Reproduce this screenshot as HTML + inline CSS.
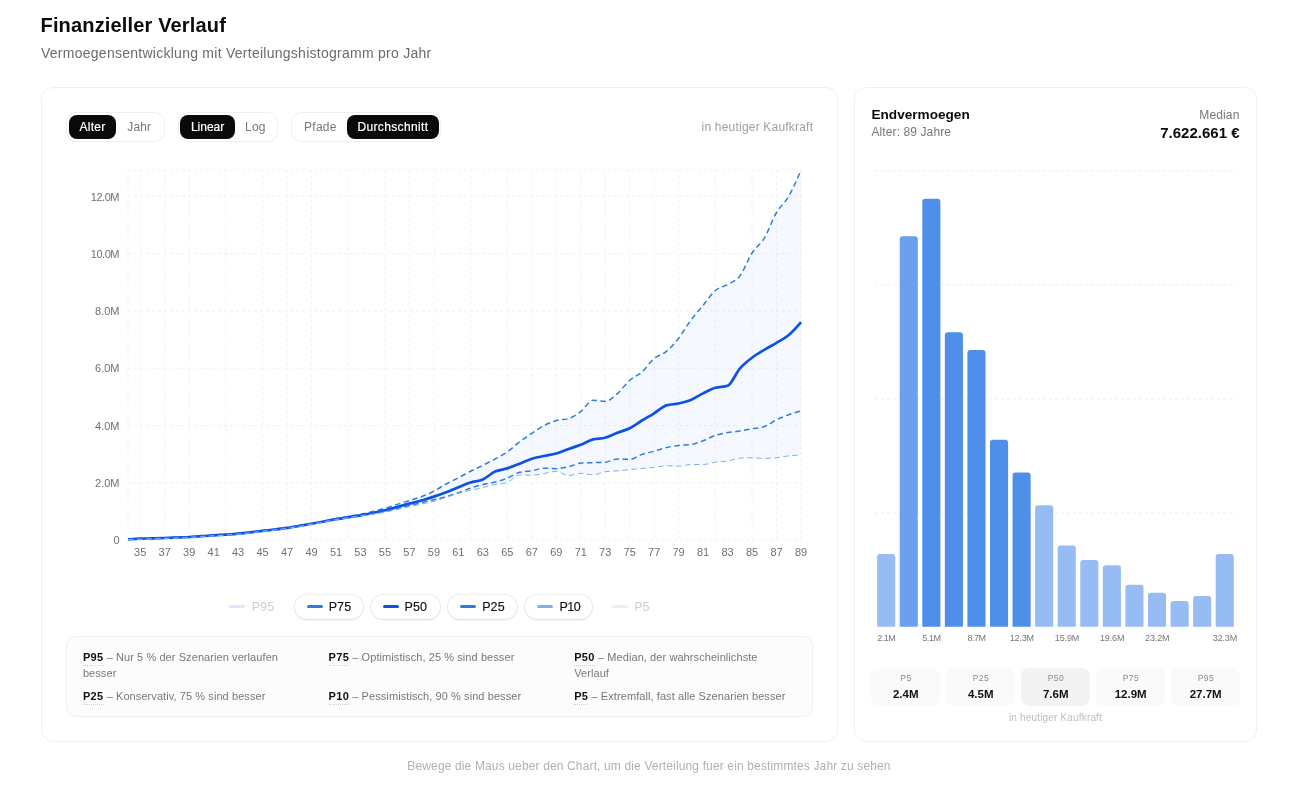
<!DOCTYPE html>
<html lang="de">
<head>
<meta charset="utf-8">
<title>Finanzieller Verlauf</title>
<style>
*{box-sizing:border-box;margin:0;padding:0}
html,body{width:1306px;height:800px;background:#fff;overflow:hidden}
body{position:relative;font-family:"Liberation Sans",sans-serif;color:#111}
.abs{position:absolute}
#root{position:absolute;left:0;top:0;width:1306px;height:800px;will-change:transform;opacity:0.999}
.card{border:1px solid #f0f0f0;border-radius:12px;background:#fff}
h1{position:absolute;left:40.5px;top:13px;font-size:20px;line-height:24px;font-weight:700;color:#0b0b0b;white-space:nowrap;letter-spacing:0.16px}
.sub{left:41px;top:45px;font-size:14px;line-height:17px;color:#6b6b6b;white-space:nowrap;letter-spacing:0.26px}
.tg{position:absolute;top:112px;height:29.6px;border:1px solid #efefef;border-radius:10px;background:#fff}
.tb{position:absolute;top:115px;height:24px;border-radius:8px;font-size:12px;line-height:24px;text-align:center;color:#777;white-space:nowrap}
.tb.on{background:#0a0a0a;color:#fff;-webkit-text-stroke:0.2px #fff}
.hint{font-size:12px;line-height:14px;color:#a0a0a0;white-space:nowrap}
.lpill{border-radius:12px;background:#fff;box-shadow:0 0 0 1px rgba(0,0,0,0.055),0 1px 3px rgba(0,0,0,0.09)}
.ltxt{font-size:12.5px;line-height:16px;white-space:nowrap;letter-spacing:0.1px}
.exbox{left:66.4px;top:636.4px;width:746.6px;height:80.2px;border:1px solid #f0f0f0;border-radius:10px;background:#fcfcfc}
.ex{width:240px;font-size:11px;line-height:16px;color:#777;white-space:nowrap;letter-spacing:0.08px}
.ex b{color:#111;font-weight:700;border-bottom:1px dotted #cfcfcf;padding-bottom:2px;letter-spacing:0.35px}
.stat{width:69px;height:38px;border-radius:8px;text-align:center}
.sk{font-size:8.5px;line-height:10px;color:#8a8a8a;margin-top:5px;letter-spacing:0.5px;padding-left:0.5px}
.sv{font-size:11.5px;line-height:14px;font-weight:700;color:#111;margin-top:4.1px}
</style>
</head>
<body>
<div id="root">
<h1>Finanzieller Verlauf</h1>
<div class="abs sub">Vermoegensentwicklung mit Verteilungshistogramm pro Jahr</div>

<div class="abs card" style="left:41px;top:86.75px;width:796.85px;height:655.1px"></div>
<div class="abs card" style="left:854px;top:86.75px;width:402.8px;height:655.1px"></div>

<div class="tg" style="left:66.1px;width:98.8px"></div>
<div class="tb on" style="left:68.9px;width:47.2px;letter-spacing:0.3px">Alter</div>
<div class="tb" style="left:116.7px;width:45px;letter-spacing:0.1px">Jahr</div>
<div class="tg" style="left:177.5px;width:100.9px"></div>
<div class="tb on" style="left:180.2px;width:54.8px">Linear</div>
<div class="tb" style="left:235.3px;width:40.1px;letter-spacing:0.2px">Log</div>
<div class="tg" style="left:291.3px;width:150px"></div>
<div class="tb" style="left:294.1px;width:52.6px;letter-spacing:0.25px">Pfade</div>
<div class="tb on" style="left:346.9px;width:92.1px;letter-spacing:0.35px">Durchschnitt</div>
<div class="abs hint" style="right:492.8px;top:120px;letter-spacing:0.2px">in heutiger Kaufkraft</div>

<svg class="abs" style="left:0;top:0" width="1306" height="800" viewBox="0 0 1306 800">
<g stroke="#f1f1f1" stroke-width="1" stroke-dasharray="3 3" fill="none">
<line x1="128.0" y1="170.00" x2="801.0" y2="170.00"/>
<line x1="128.0" y1="196.56" x2="801.0" y2="196.56"/>
<line x1="128.0" y1="253.80" x2="801.0" y2="253.80"/>
<line x1="128.0" y1="311.04" x2="801.0" y2="311.04"/>
<line x1="128.0" y1="368.28" x2="801.0" y2="368.28"/>
<line x1="128.0" y1="425.52" x2="801.0" y2="425.52"/>
<line x1="128.0" y1="482.76" x2="801.0" y2="482.76"/>
<line x1="128.0" y1="540.00" x2="801.0" y2="540.00"/>
<line x1="128.00" y1="170.0" x2="128.00" y2="540.0"/>
<line x1="140.24" y1="170.0" x2="140.24" y2="540.0"/>
<line x1="164.71" y1="170.0" x2="164.71" y2="540.0"/>
<line x1="189.18" y1="170.0" x2="189.18" y2="540.0"/>
<line x1="225.89" y1="170.0" x2="225.89" y2="540.0"/>
<line x1="262.60" y1="170.0" x2="262.60" y2="540.0"/>
<line x1="287.07" y1="170.0" x2="287.07" y2="540.0"/>
<line x1="311.55" y1="170.0" x2="311.55" y2="540.0"/>
<line x1="348.25" y1="170.0" x2="348.25" y2="540.0"/>
<line x1="384.96" y1="170.0" x2="384.96" y2="540.0"/>
<line x1="409.44" y1="170.0" x2="409.44" y2="540.0"/>
<line x1="433.91" y1="170.0" x2="433.91" y2="540.0"/>
<line x1="470.62" y1="170.0" x2="470.62" y2="540.0"/>
<line x1="507.33" y1="170.0" x2="507.33" y2="540.0"/>
<line x1="531.80" y1="170.0" x2="531.80" y2="540.0"/>
<line x1="556.27" y1="170.0" x2="556.27" y2="540.0"/>
<line x1="580.75" y1="170.0" x2="580.75" y2="540.0"/>
<line x1="605.22" y1="170.0" x2="605.22" y2="540.0"/>
<line x1="629.69" y1="170.0" x2="629.69" y2="540.0"/>
<line x1="654.16" y1="170.0" x2="654.16" y2="540.0"/>
<line x1="678.64" y1="170.0" x2="678.64" y2="540.0"/>
<line x1="715.35" y1="170.0" x2="715.35" y2="540.0"/>
<line x1="752.05" y1="170.0" x2="752.05" y2="540.0"/>
<line x1="776.53" y1="170.0" x2="776.53" y2="540.0"/>
<line x1="801.00" y1="170.0" x2="801.00" y2="540.0"/>
</g>
<path d="M128.00,539.00C132.08,538.78,136.16,538.55,140.24,538.40C144.32,538.25,148.39,538.22,152.47,538.10C156.55,537.98,160.63,537.85,164.71,537.70C168.79,537.55,172.87,537.37,176.95,537.20C181.02,537.03,185.10,536.92,189.18,536.70C193.26,536.48,197.34,536.18,201.42,535.90C205.50,535.62,209.58,535.27,213.65,535.00C217.73,534.73,221.81,534.57,225.89,534.30C229.97,534.03,234.05,533.77,238.13,533.40C242.21,533.03,246.28,532.57,250.36,532.10C254.44,531.63,258.52,531.08,262.60,530.60C266.68,530.12,270.76,529.70,274.84,529.20C278.92,528.70,282.99,528.20,287.07,527.60C291.15,527.00,295.23,526.29,299.31,525.60C303.39,524.91,307.47,524.18,311.55,523.45C315.62,522.72,319.70,521.99,323.78,521.20C327.86,520.41,331.94,519.48,336.02,518.70C340.10,517.92,344.18,517.23,348.25,516.50C352.33,515.77,356.41,515.13,360.49,514.30C364.57,513.47,368.65,512.50,372.73,511.50C376.81,510.50,380.88,509.48,384.96,508.30C389.04,507.12,393.12,505.70,397.20,504.40C401.28,503.10,405.36,501.80,409.44,500.50C413.52,499.20,417.59,498.17,421.67,496.60C425.75,495.03,429.83,493.20,433.91,491.10C437.99,489.00,442.07,486.22,446.15,484.00C450.22,481.78,454.30,479.93,458.38,477.80C462.46,475.68,466.54,473.33,470.62,471.25C474.70,469.17,478.78,467.34,482.85,465.30C486.93,463.26,491.01,461.22,495.09,459.00C499.17,456.78,503.25,454.85,507.33,452.00C511.41,449.15,515.48,445.02,519.56,441.90C523.64,438.78,527.72,436.03,531.80,433.30C535.88,430.57,539.96,427.63,544.04,425.50C548.12,423.37,552.19,421.65,556.27,420.50C560.35,419.35,564.43,419.87,568.51,418.60C572.59,417.33,576.67,414.65,580.75,411.60C584.82,408.55,588.90,400.30,592.98,400.30C597.06,400.30,601.14,401.40,605.22,401.40C609.30,401.40,613.38,397.12,617.45,393.60C621.53,390.08,625.61,383.90,629.69,380.30C633.77,376.70,637.85,375.63,641.93,372.00C646.01,368.37,650.08,361.93,654.16,358.50C658.24,355.07,662.32,354.80,666.40,351.40C670.48,348.00,674.56,343.30,678.64,338.10C682.72,332.90,686.79,325.67,690.87,320.20C694.95,314.73,699.03,310.25,703.11,305.30C707.19,300.35,711.27,293.97,715.35,290.50C719.42,287.03,723.50,286.92,727.58,284.50C731.66,282.08,735.74,281.25,739.82,276.00C743.90,270.75,747.98,259.32,752.05,253.00C756.13,246.68,760.21,244.85,764.29,238.10C768.37,231.35,772.45,219.48,776.53,212.50C780.61,205.52,784.68,203.25,788.76,196.20C792.84,189.15,796.92,179.67,801.00,170.20L801.00,455.00C796.92,455.17,792.84,455.33,788.76,455.80C784.68,456.27,780.61,457.40,776.53,457.80C772.45,458.20,768.37,458.40,764.29,458.40C760.21,458.40,756.13,457.80,752.05,457.80C747.98,457.80,743.90,457.93,739.82,458.20C735.74,458.47,731.66,460.33,727.58,461.00C723.50,461.67,719.42,461.62,715.35,462.20C711.27,462.78,707.19,464.50,703.11,464.50C699.03,464.50,694.95,464.50,690.87,464.50C686.79,464.50,682.72,466.25,678.64,466.25C674.56,466.25,670.48,465.70,666.40,465.70C662.32,465.70,658.24,466.95,654.16,467.40C650.08,467.85,646.01,468.03,641.93,468.40C637.85,468.77,633.77,469.18,629.69,469.60C625.61,470.02,621.53,470.55,617.45,470.90C613.38,471.25,609.30,471.17,605.22,471.70C601.14,472.23,597.06,474.80,592.98,474.80C588.90,474.80,584.82,473.30,580.75,473.30C576.67,473.30,572.59,475.60,568.51,475.60C564.43,475.60,560.35,471.40,556.27,471.40C552.19,471.40,548.12,472.87,544.04,473.50C539.96,474.13,535.88,475.20,531.80,475.20C527.72,475.20,523.64,475.00,519.56,475.00C515.48,475.00,511.41,480.93,507.33,482.40C503.25,483.87,499.17,483.73,495.09,484.60C491.01,485.47,486.93,486.63,482.85,487.60C478.78,488.57,474.70,489.43,470.62,490.40C466.54,491.37,462.46,492.22,458.38,493.40C454.30,494.58,450.22,496.19,446.15,497.50C442.07,498.81,437.99,500.17,433.91,501.25C429.83,502.33,425.75,503.09,421.67,504.00C417.59,504.91,413.52,505.78,409.44,506.70C405.36,507.62,401.28,508.58,397.20,509.50C393.12,510.42,389.04,511.40,384.96,512.20C380.88,513.00,376.81,513.70,372.73,514.30C368.65,514.90,364.57,515.23,360.49,515.80C356.41,516.37,352.33,517.05,348.25,517.70C344.18,518.35,340.10,518.98,336.02,519.70C331.94,520.42,327.86,521.24,323.78,522.00C319.70,522.76,315.62,523.52,311.55,524.25C307.47,524.98,303.39,525.71,299.31,526.40C295.23,527.09,291.15,527.80,287.07,528.40C282.99,529.00,278.92,529.50,274.84,530.00C270.76,530.50,266.68,530.92,262.60,531.40C258.52,531.88,254.44,532.43,250.36,532.90C246.28,533.37,242.21,533.83,238.13,534.20C234.05,534.57,229.97,534.83,225.89,535.10C221.81,535.37,217.73,535.53,213.65,535.80C209.58,536.07,205.50,536.42,201.42,536.70C197.34,536.98,193.26,537.28,189.18,537.50C185.10,537.72,181.02,537.83,176.95,538.00C172.87,538.17,168.79,538.35,164.71,538.50C160.63,538.65,156.55,538.78,152.47,538.90C148.39,539.02,144.32,539.05,140.24,539.20C136.16,539.35,132.08,539.58,128.00,539.80Z" fill="#3b82f6" fill-opacity="0.05" stroke="none"/>
<path d="M128.00,539.00C132.08,538.78,136.16,538.55,140.24,538.40C144.32,538.25,148.39,538.22,152.47,538.10C156.55,537.98,160.63,537.85,164.71,537.70C168.79,537.55,172.87,537.37,176.95,537.20C181.02,537.03,185.10,536.92,189.18,536.70C193.26,536.48,197.34,536.18,201.42,535.90C205.50,535.62,209.58,535.27,213.65,535.00C217.73,534.73,221.81,534.57,225.89,534.30C229.97,534.03,234.05,533.77,238.13,533.40C242.21,533.03,246.28,532.57,250.36,532.10C254.44,531.63,258.52,531.08,262.60,530.60C266.68,530.12,270.76,529.70,274.84,529.20C278.92,528.70,282.99,528.20,287.07,527.60C291.15,527.00,295.23,526.29,299.31,525.60C303.39,524.91,307.47,524.18,311.55,523.45C315.62,522.72,319.70,521.99,323.78,521.20C327.86,520.41,331.94,519.48,336.02,518.70C340.10,517.92,344.18,517.23,348.25,516.50C352.33,515.77,356.41,515.13,360.49,514.30C364.57,513.47,368.65,512.50,372.73,511.50C376.81,510.50,380.88,509.48,384.96,508.30C389.04,507.12,393.12,505.70,397.20,504.40C401.28,503.10,405.36,501.80,409.44,500.50C413.52,499.20,417.59,498.17,421.67,496.60C425.75,495.03,429.83,493.20,433.91,491.10C437.99,489.00,442.07,486.22,446.15,484.00C450.22,481.78,454.30,479.93,458.38,477.80C462.46,475.68,466.54,473.33,470.62,471.25C474.70,469.17,478.78,467.34,482.85,465.30C486.93,463.26,491.01,461.22,495.09,459.00C499.17,456.78,503.25,454.85,507.33,452.00C511.41,449.15,515.48,445.02,519.56,441.90C523.64,438.78,527.72,436.03,531.80,433.30C535.88,430.57,539.96,427.63,544.04,425.50C548.12,423.37,552.19,421.65,556.27,420.50C560.35,419.35,564.43,419.87,568.51,418.60C572.59,417.33,576.67,414.65,580.75,411.60C584.82,408.55,588.90,400.30,592.98,400.30C597.06,400.30,601.14,401.40,605.22,401.40C609.30,401.40,613.38,397.12,617.45,393.60C621.53,390.08,625.61,383.90,629.69,380.30C633.77,376.70,637.85,375.63,641.93,372.00C646.01,368.37,650.08,361.93,654.16,358.50C658.24,355.07,662.32,354.80,666.40,351.40C670.48,348.00,674.56,343.30,678.64,338.10C682.72,332.90,686.79,325.67,690.87,320.20C694.95,314.73,699.03,310.25,703.11,305.30C707.19,300.35,711.27,293.97,715.35,290.50C719.42,287.03,723.50,286.92,727.58,284.50C731.66,282.08,735.74,281.25,739.82,276.00C743.90,270.75,747.98,259.32,752.05,253.00C756.13,246.68,760.21,244.85,764.29,238.10C768.37,231.35,772.45,219.48,776.53,212.50C780.61,205.52,784.68,203.25,788.76,196.20C792.84,189.15,796.92,179.67,801.00,170.20" fill="none" stroke="#2f7be3" stroke-width="1.5" stroke-dasharray="5.5 3.5"/>
<path d="M128.00,539.30C132.08,539.08,136.16,538.85,140.24,538.70C144.32,538.55,148.39,538.52,152.47,538.40C156.55,538.28,160.63,538.15,164.71,538.00C168.79,537.85,172.87,537.67,176.95,537.50C181.02,537.33,185.10,537.22,189.18,537.00C193.26,536.78,197.34,536.48,201.42,536.20C205.50,535.92,209.58,535.57,213.65,535.30C217.73,535.03,221.81,534.87,225.89,534.60C229.97,534.33,234.05,534.07,238.13,533.70C242.21,533.33,246.28,532.87,250.36,532.40C254.44,531.93,258.52,531.38,262.60,530.90C266.68,530.42,270.76,530.00,274.84,529.50C278.92,529.00,282.99,528.50,287.07,527.90C291.15,527.30,295.23,526.59,299.31,525.90C303.39,525.21,307.47,524.48,311.55,523.75C315.62,523.02,319.70,522.26,323.78,521.50C327.86,520.74,331.94,519.92,336.02,519.20C340.10,518.48,344.18,517.85,348.25,517.20C352.33,516.55,356.41,516.00,360.49,515.30C364.57,514.60,368.65,513.83,372.73,513.00C376.81,512.17,380.88,511.30,384.96,510.30C389.04,509.30,393.12,508.12,397.20,507.00C401.28,505.88,405.36,504.68,409.44,503.60C413.52,502.52,417.59,501.67,421.67,500.50C425.75,499.33,429.83,497.98,433.91,496.60C437.99,495.22,442.07,493.77,446.15,492.20C450.22,490.63,454.30,488.82,458.38,487.20C462.46,485.58,466.54,483.80,470.62,482.50C474.70,481.20,478.78,481.22,482.85,479.40C486.93,477.58,491.01,473.43,495.09,471.60C499.17,469.77,503.25,469.71,507.33,468.40C511.41,467.09,515.48,465.36,519.56,463.75C523.64,462.14,527.72,460.04,531.80,458.75C535.88,457.46,539.96,456.88,544.04,456.00C548.12,455.12,552.19,454.67,556.27,453.50C560.35,452.33,564.43,450.45,568.51,449.00C572.59,447.55,576.67,446.40,580.75,444.80C584.82,443.20,588.90,440.53,592.98,439.40C597.06,438.27,601.14,438.82,605.22,437.70C609.30,436.58,613.38,434.28,617.45,432.70C621.53,431.12,625.61,430.23,629.69,428.20C633.77,426.17,637.85,422.98,641.93,420.50C646.01,418.02,650.08,415.82,654.16,413.30C658.24,410.78,662.32,406.67,666.40,405.40C670.48,404.13,674.56,404.42,678.64,403.50C682.72,402.58,686.79,401.58,690.87,399.90C694.95,398.22,699.03,395.42,703.11,393.40C707.19,391.38,711.27,389.07,715.35,387.80C719.42,386.53,723.50,387.13,727.58,385.80C731.66,384.47,735.74,373.28,739.82,368.60C743.90,363.92,747.98,360.83,752.05,357.70C756.13,354.57,760.21,352.28,764.29,349.80C768.37,347.32,772.45,345.27,776.53,342.80C780.61,340.33,784.68,338.43,788.76,335.00C792.84,331.57,796.92,326.88,801.00,322.20" fill="none" stroke="#0f51e4" stroke-width="2.7" stroke-linejoin="round"/>
<path d="M128.00,539.60C132.08,539.38,136.16,539.15,140.24,539.00C144.32,538.85,148.39,538.82,152.47,538.70C156.55,538.58,160.63,538.45,164.71,538.30C168.79,538.15,172.87,537.97,176.95,537.80C181.02,537.63,185.10,537.52,189.18,537.30C193.26,537.08,197.34,536.78,201.42,536.50C205.50,536.22,209.58,535.87,213.65,535.60C217.73,535.33,221.81,535.17,225.89,534.90C229.97,534.63,234.05,534.37,238.13,534.00C242.21,533.63,246.28,533.17,250.36,532.70C254.44,532.23,258.52,531.68,262.60,531.20C266.68,530.72,270.76,530.30,274.84,529.80C278.92,529.30,282.99,528.80,287.07,528.20C291.15,527.60,295.23,526.89,299.31,526.20C303.39,525.51,307.47,524.78,311.55,524.05C315.62,523.32,319.70,522.56,323.78,521.80C327.86,521.04,331.94,520.22,336.02,519.50C340.10,518.78,344.18,518.15,348.25,517.50C352.33,516.85,356.41,516.22,360.49,515.60C364.57,514.98,368.65,514.50,372.73,513.80C376.81,513.10,380.88,512.28,384.96,511.40C389.04,510.52,393.12,509.47,397.20,508.50C401.28,507.53,405.36,506.57,409.44,505.60C413.52,504.63,417.59,503.68,421.67,502.70C425.75,501.72,429.83,500.72,433.91,499.70C437.99,498.68,442.07,497.77,446.15,496.60C450.22,495.43,454.30,494.12,458.38,492.70C462.46,491.28,466.54,489.48,470.62,488.10C474.70,486.72,478.78,485.40,482.85,484.40C486.93,483.40,491.01,483.13,495.09,482.10C499.17,481.07,503.25,479.83,507.33,478.20C511.41,476.57,515.48,473.30,519.56,472.30C523.64,471.30,527.72,471.48,531.80,470.80C535.88,470.12,539.96,468.20,544.04,468.20C548.12,468.20,552.19,468.70,556.27,468.70C560.35,468.70,564.43,467.73,568.51,466.80C572.59,465.87,576.67,463.37,580.75,463.10C584.82,462.83,588.90,462.83,592.98,462.70C597.06,462.57,601.14,462.57,605.22,462.30C609.30,462.03,613.38,458.90,617.45,458.90C621.53,458.90,625.61,459.40,629.69,459.40C633.77,459.40,637.85,455.77,641.93,454.40C646.01,453.03,650.08,452.33,654.16,451.20C658.24,450.07,662.32,448.57,666.40,447.60C670.48,446.63,674.56,445.90,678.64,445.40C682.72,444.90,686.79,445.13,690.87,444.60C694.95,444.07,699.03,442.23,703.11,440.70C707.19,439.17,711.27,436.77,715.35,435.40C719.42,434.03,723.50,433.22,727.58,432.50C731.66,431.78,735.74,431.73,739.82,431.10C743.90,430.48,747.98,429.50,752.05,428.75C756.13,428.00,760.21,428.03,764.29,426.60C768.37,425.17,772.45,421.78,776.53,419.80C780.61,417.82,784.68,416.18,788.76,414.70C792.84,413.22,796.92,412.06,801.00,410.90" fill="none" stroke="#2f7be3" stroke-width="1.5" stroke-dasharray="5.5 3.5"/>
<path d="M128.00,539.80C132.08,539.58,136.16,539.35,140.24,539.20C144.32,539.05,148.39,539.02,152.47,538.90C156.55,538.78,160.63,538.65,164.71,538.50C168.79,538.35,172.87,538.17,176.95,538.00C181.02,537.83,185.10,537.72,189.18,537.50C193.26,537.28,197.34,536.98,201.42,536.70C205.50,536.42,209.58,536.07,213.65,535.80C217.73,535.53,221.81,535.37,225.89,535.10C229.97,534.83,234.05,534.57,238.13,534.20C242.21,533.83,246.28,533.37,250.36,532.90C254.44,532.43,258.52,531.88,262.60,531.40C266.68,530.92,270.76,530.50,274.84,530.00C278.92,529.50,282.99,529.00,287.07,528.40C291.15,527.80,295.23,527.09,299.31,526.40C303.39,525.71,307.47,524.98,311.55,524.25C315.62,523.52,319.70,522.76,323.78,522.00C327.86,521.24,331.94,520.42,336.02,519.70C340.10,518.98,344.18,518.35,348.25,517.70C352.33,517.05,356.41,516.37,360.49,515.80C364.57,515.23,368.65,514.90,372.73,514.30C376.81,513.70,380.88,513.00,384.96,512.20C389.04,511.40,393.12,510.42,397.20,509.50C401.28,508.58,405.36,507.62,409.44,506.70C413.52,505.78,417.59,504.91,421.67,504.00C425.75,503.09,429.83,502.33,433.91,501.25C437.99,500.17,442.07,498.81,446.15,497.50C450.22,496.19,454.30,494.58,458.38,493.40C462.46,492.22,466.54,491.37,470.62,490.40C474.70,489.43,478.78,488.57,482.85,487.60C486.93,486.63,491.01,485.47,495.09,484.60C499.17,483.73,503.25,483.87,507.33,482.40C511.41,480.93,515.48,475.00,519.56,475.00C523.64,475.00,527.72,475.20,531.80,475.20C535.88,475.20,539.96,474.13,544.04,473.50C548.12,472.87,552.19,471.40,556.27,471.40C560.35,471.40,564.43,475.60,568.51,475.60C572.59,475.60,576.67,473.30,580.75,473.30C584.82,473.30,588.90,474.80,592.98,474.80C597.06,474.80,601.14,472.23,605.22,471.70C609.30,471.17,613.38,471.25,617.45,470.90C621.53,470.55,625.61,470.02,629.69,469.60C633.77,469.18,637.85,468.77,641.93,468.40C646.01,468.03,650.08,467.85,654.16,467.40C658.24,466.95,662.32,465.70,666.40,465.70C670.48,465.70,674.56,466.25,678.64,466.25C682.72,466.25,686.79,464.50,690.87,464.50C694.95,464.50,699.03,464.50,703.11,464.50C707.19,464.50,711.27,462.78,715.35,462.20C719.42,461.62,723.50,461.67,727.58,461.00C731.66,460.33,735.74,458.47,739.82,458.20C743.90,457.93,747.98,457.80,752.05,457.80C756.13,457.80,760.21,458.40,764.29,458.40C768.37,458.40,772.45,458.20,776.53,457.80C780.61,457.40,784.68,456.27,788.76,455.80C792.84,455.33,796.92,455.17,801.00,455.00" fill="none" stroke="#7fb0ec" stroke-width="1" stroke-dasharray="5.5 3.5"/>
<g font-family="Liberation Sans, sans-serif" font-size="11" fill="#707070">
<text x="119.05" y="200.56" text-anchor="end" letter-spacing="-0.45">12.0M</text>
<text x="119.05" y="257.80" text-anchor="end" letter-spacing="-0.45">10.0M</text>
<text x="119.5" y="315.04" text-anchor="end" letter-spacing="0">8.0M</text>
<text x="119.5" y="372.28" text-anchor="end" letter-spacing="0">6.0M</text>
<text x="119.5" y="429.52" text-anchor="end" letter-spacing="0">4.0M</text>
<text x="119.5" y="486.76" text-anchor="end" letter-spacing="0">2.0M</text>
<text x="119.5" y="544.00" text-anchor="end">0</text>
<text x="140.24" y="556" text-anchor="middle">35</text>
<text x="164.71" y="556" text-anchor="middle">37</text>
<text x="189.18" y="556" text-anchor="middle">39</text>
<text x="213.65" y="556" text-anchor="middle">41</text>
<text x="238.13" y="556" text-anchor="middle">43</text>
<text x="262.60" y="556" text-anchor="middle">45</text>
<text x="287.07" y="556" text-anchor="middle">47</text>
<text x="311.55" y="556" text-anchor="middle">49</text>
<text x="336.02" y="556" text-anchor="middle">51</text>
<text x="360.49" y="556" text-anchor="middle">53</text>
<text x="384.96" y="556" text-anchor="middle">55</text>
<text x="409.44" y="556" text-anchor="middle">57</text>
<text x="433.91" y="556" text-anchor="middle">59</text>
<text x="458.38" y="556" text-anchor="middle">61</text>
<text x="482.85" y="556" text-anchor="middle">63</text>
<text x="507.33" y="556" text-anchor="middle">65</text>
<text x="531.80" y="556" text-anchor="middle">67</text>
<text x="556.27" y="556" text-anchor="middle">69</text>
<text x="580.75" y="556" text-anchor="middle">71</text>
<text x="605.22" y="556" text-anchor="middle">73</text>
<text x="629.69" y="556" text-anchor="middle">75</text>
<text x="654.16" y="556" text-anchor="middle">77</text>
<text x="678.64" y="556" text-anchor="middle">79</text>
<text x="703.11" y="556" text-anchor="middle">81</text>
<text x="727.58" y="556" text-anchor="middle">83</text>
<text x="752.05" y="556" text-anchor="middle">85</text>
<text x="776.53" y="556" text-anchor="middle">87</text>
<text x="801.00" y="556" text-anchor="middle">89</text>
</g>
<g stroke="#eeeeee" stroke-width="1" stroke-dasharray="3 3">
<line x1="875.2" y1="170.9" x2="1236.3" y2="170.9"/>
<line x1="875.2" y1="284.9" x2="1236.3" y2="284.9"/>
<line x1="875.2" y1="399.0" x2="1236.3" y2="399.0"/>
<line x1="875.2" y1="513.0" x2="1236.3" y2="513.0"/>
</g>
<path d="M877.14,626.7 L877.14,557.00 Q877.14,554.00 880.14,554.00 L892.24,554.00 Q895.24,554.00 895.24,557.00 L895.24,626.7 Z" fill="#97bcf3"/>
<path d="M899.71,626.7 L899.71,239.20 Q899.71,236.20 902.71,236.20 L914.81,236.20 Q917.81,236.20 917.81,239.20 L917.81,626.7 Z" fill="#6aa0ee"/>
<path d="M922.28,626.7 L922.28,201.80 Q922.28,198.80 925.28,198.80 L937.38,198.80 Q940.38,198.80 940.38,201.80 L940.38,626.7 Z" fill="#4f8fe9"/>
<path d="M944.85,626.7 L944.85,335.30 Q944.85,332.30 947.85,332.30 L959.95,332.30 Q962.95,332.30 962.95,335.30 L962.95,626.7 Z" fill="#4f8fe9"/>
<path d="M967.42,626.7 L967.42,353.10 Q967.42,350.10 970.42,350.10 L982.52,350.10 Q985.52,350.10 985.52,353.10 L985.52,626.7 Z" fill="#4f8fe9"/>
<path d="M989.99,626.7 L989.99,442.80 Q989.99,439.80 992.99,439.80 L1005.09,439.80 Q1008.09,439.80 1008.09,442.80 L1008.09,626.7 Z" fill="#4f8fe9"/>
<path d="M1012.56,626.7 L1012.56,475.50 Q1012.56,472.50 1015.56,472.50 L1027.66,472.50 Q1030.66,472.50 1030.66,475.50 L1030.66,626.7 Z" fill="#4f8fe9"/>
<path d="M1035.12,626.7 L1035.12,508.20 Q1035.12,505.20 1038.12,505.20 L1050.22,505.20 Q1053.22,505.20 1053.22,508.20 L1053.22,626.7 Z" fill="#97bcf3"/>
<path d="M1057.69,626.7 L1057.69,548.50 Q1057.69,545.50 1060.69,545.50 L1072.79,545.50 Q1075.79,545.50 1075.79,548.50 L1075.79,626.7 Z" fill="#97bcf3"/>
<path d="M1080.26,626.7 L1080.26,563.10 Q1080.26,560.10 1083.26,560.10 L1095.36,560.10 Q1098.36,560.10 1098.36,563.10 L1098.36,626.7 Z" fill="#97bcf3"/>
<path d="M1102.84,626.7 L1102.84,568.20 Q1102.84,565.20 1105.84,565.20 L1117.93,565.20 Q1120.93,565.20 1120.93,568.20 L1120.93,626.7 Z" fill="#97bcf3"/>
<path d="M1125.40,626.7 L1125.40,587.80 Q1125.40,584.80 1128.40,584.80 L1140.50,584.80 Q1143.50,584.80 1143.50,587.80 L1143.50,626.7 Z" fill="#97bcf3"/>
<path d="M1147.97,626.7 L1147.97,595.80 Q1147.97,592.80 1150.97,592.80 L1163.07,592.80 Q1166.07,592.80 1166.07,595.80 L1166.07,626.7 Z" fill="#97bcf3"/>
<path d="M1170.55,626.7 L1170.55,604.10 Q1170.55,601.10 1173.55,601.10 L1185.64,601.10 Q1188.64,601.10 1188.64,604.10 L1188.64,626.7 Z" fill="#97bcf3"/>
<path d="M1193.12,626.7 L1193.12,599.10 Q1193.12,596.10 1196.12,596.10 L1208.21,596.10 Q1211.21,596.10 1211.21,599.10 L1211.21,626.7 Z" fill="#97bcf3"/>
<path d="M1215.68,626.7 L1215.68,556.90 Q1215.68,553.90 1218.68,553.90 L1230.78,553.90 Q1233.78,553.90 1233.78,556.90 L1233.78,626.7 Z" fill="#97bcf3"/>
<g font-family="Liberation Sans, sans-serif" font-size="9" fill="#777" text-anchor="middle">
<text x="886.26" y="641" letter-spacing="-0.45">2.1M</text>
<text x="931.40" y="641" letter-spacing="-0.45">5.1M</text>
<text x="976.54" y="641" letter-spacing="-0.45">8.7M</text>
<text x="1021.83" y="641" letter-spacing="-0.15">12.3M</text>
<text x="1066.97" y="641" letter-spacing="-0.15">15.9M</text>
<text x="1112.11" y="641" letter-spacing="-0.15">19.6M</text>
<text x="1157.25" y="641" letter-spacing="-0.15">23.2M</text>
<text x="1224.96" y="641" letter-spacing="-0.15">32.3M</text>
</g>
</svg>

<div class="abs" style="left:229px;top:605px;width:16px;height:3px;border-radius:2px;background:#dbe8fb"></div>
<div class="abs ltxt" style="left:251.7px;top:599px;color:#cfcfcf;">P95</div>
<div class="abs lpill" style="left:295px;top:595px;width:68px;height:24px"></div>
<div class="abs" style="left:307.2px;top:605px;width:16px;height:3px;border-radius:2px;background:#2f7be3"></div>
<div class="abs ltxt" style="left:328.7px;top:599px;color:#111;-webkit-text-stroke:0.15px #111;">P75</div>
<div class="abs lpill" style="left:371px;top:595px;width:69px;height:24px"></div>
<div class="abs" style="left:383.1px;top:605px;width:16px;height:3px;border-radius:2px;background:#0f51e4"></div>
<div class="abs ltxt" style="left:404.6px;top:599px;color:#111;-webkit-text-stroke:0.15px #111;">P50</div>
<div class="abs lpill" style="left:448px;top:595px;width:69px;height:24px"></div>
<div class="abs" style="left:460.4px;top:605px;width:16px;height:3px;border-radius:2px;background:#2f7be3"></div>
<div class="abs ltxt" style="left:482.2px;top:599px;color:#111;-webkit-text-stroke:0.15px #111;">P25</div>
<div class="abs lpill" style="left:525px;top:595px;width:66.5px;height:24px"></div>
<div class="abs" style="left:537.3px;top:605px;width:16px;height:3px;border-radius:2px;background:#7fb0ec"></div>
<div class="abs ltxt" style="left:559.5px;top:599px;color:#111;-webkit-text-stroke:0.15px #111;letter-spacing:-0.5px;">P10</div>
<div class="abs" style="left:612.2px;top:605px;width:16px;height:3px;border-radius:2px;background:#e6eefb"></div>
<div class="abs ltxt" style="left:634.2px;top:599px;color:#cfcfcf;">P5</div>

<div class="abs exbox"></div>
<div class="abs ex" style="left:82.9px;top:649px"><b>P95</b> &ndash; Nur 5 % der Szenarien verlaufen<br>besser</div>
<div class="abs ex" style="left:328.5px;top:649px"><b>P75</b> &ndash; Optimistisch, 25 % sind besser</div>
<div class="abs ex" style="left:574.2px;top:649px"><b>P50</b> &ndash; Median, der wahrscheinlichste<br>Verlauf</div>
<div class="abs ex" style="left:82.9px;top:688px"><b>P25</b> &ndash; Konservativ, 75 % sind besser</div>
<div class="abs ex" style="left:328.5px;top:688px"><b>P10</b> &ndash; Pessimistisch, 90 % sind besser</div>
<div class="abs ex" style="left:574.2px;top:688px"><b>P5</b> &ndash; Extremfall, fast alle Szenarien besser</div>

<div class="abs" style="left:871.5px;top:106px;font-size:13.6px;line-height:17px;font-weight:700;color:#0b0b0b;white-space:nowrap">Endvermoegen</div>
<div class="abs" style="left:871.5px;top:125px;font-size:12px;line-height:14px;color:#777;white-space:nowrap;letter-spacing:0.1px">Alter: 89 Jahre</div>
<div class="abs" style="right:66.5px;top:108px;font-size:12px;line-height:14px;color:#777;white-space:nowrap;letter-spacing:0.15px">Median</div>
<div class="abs" style="right:66.5px;top:123.7px;font-size:15px;line-height:18px;font-weight:700;color:#0b0b0b;white-space:nowrap">7.622.661 &euro;</div>

<div class="abs stat" style="left:871.2px;top:668px;background:#fafafa"><div class="sk">P5</div><div class="sv">2.4M</div></div>
<div class="abs stat" style="left:946.2px;top:668px;background:#fafafa"><div class="sk">P25</div><div class="sv">4.5M</div></div>
<div class="abs stat" style="left:1021.2px;top:668px;background:#f3f3f3"><div class="sk">P50</div><div class="sv">7.6M</div></div>
<div class="abs stat" style="left:1096.2px;top:668px;background:#fafafa"><div class="sk">P75</div><div class="sv">12.9M</div></div>
<div class="abs stat" style="left:1171.2px;top:668px;background:#fafafa"><div class="sk">P95</div><div class="sv">27.7M</div></div>
<div class="abs" style="left:871px;width:369px;top:712.3px;text-align:center;font-size:10px;line-height:12px;color:#bdbdbd;letter-spacing:0.17px">in heutiger Kaufkraft</div>

<div class="abs" style="left:41px;width:1216px;top:759px;text-align:center;font-size:12px;line-height:14px;color:#b0b0b0;letter-spacing:0.14px">Bewege die Maus ueber den Chart, um die Verteilung fuer ein bestimmtes Jahr zu sehen</div>
</div>
</body>
</html>
